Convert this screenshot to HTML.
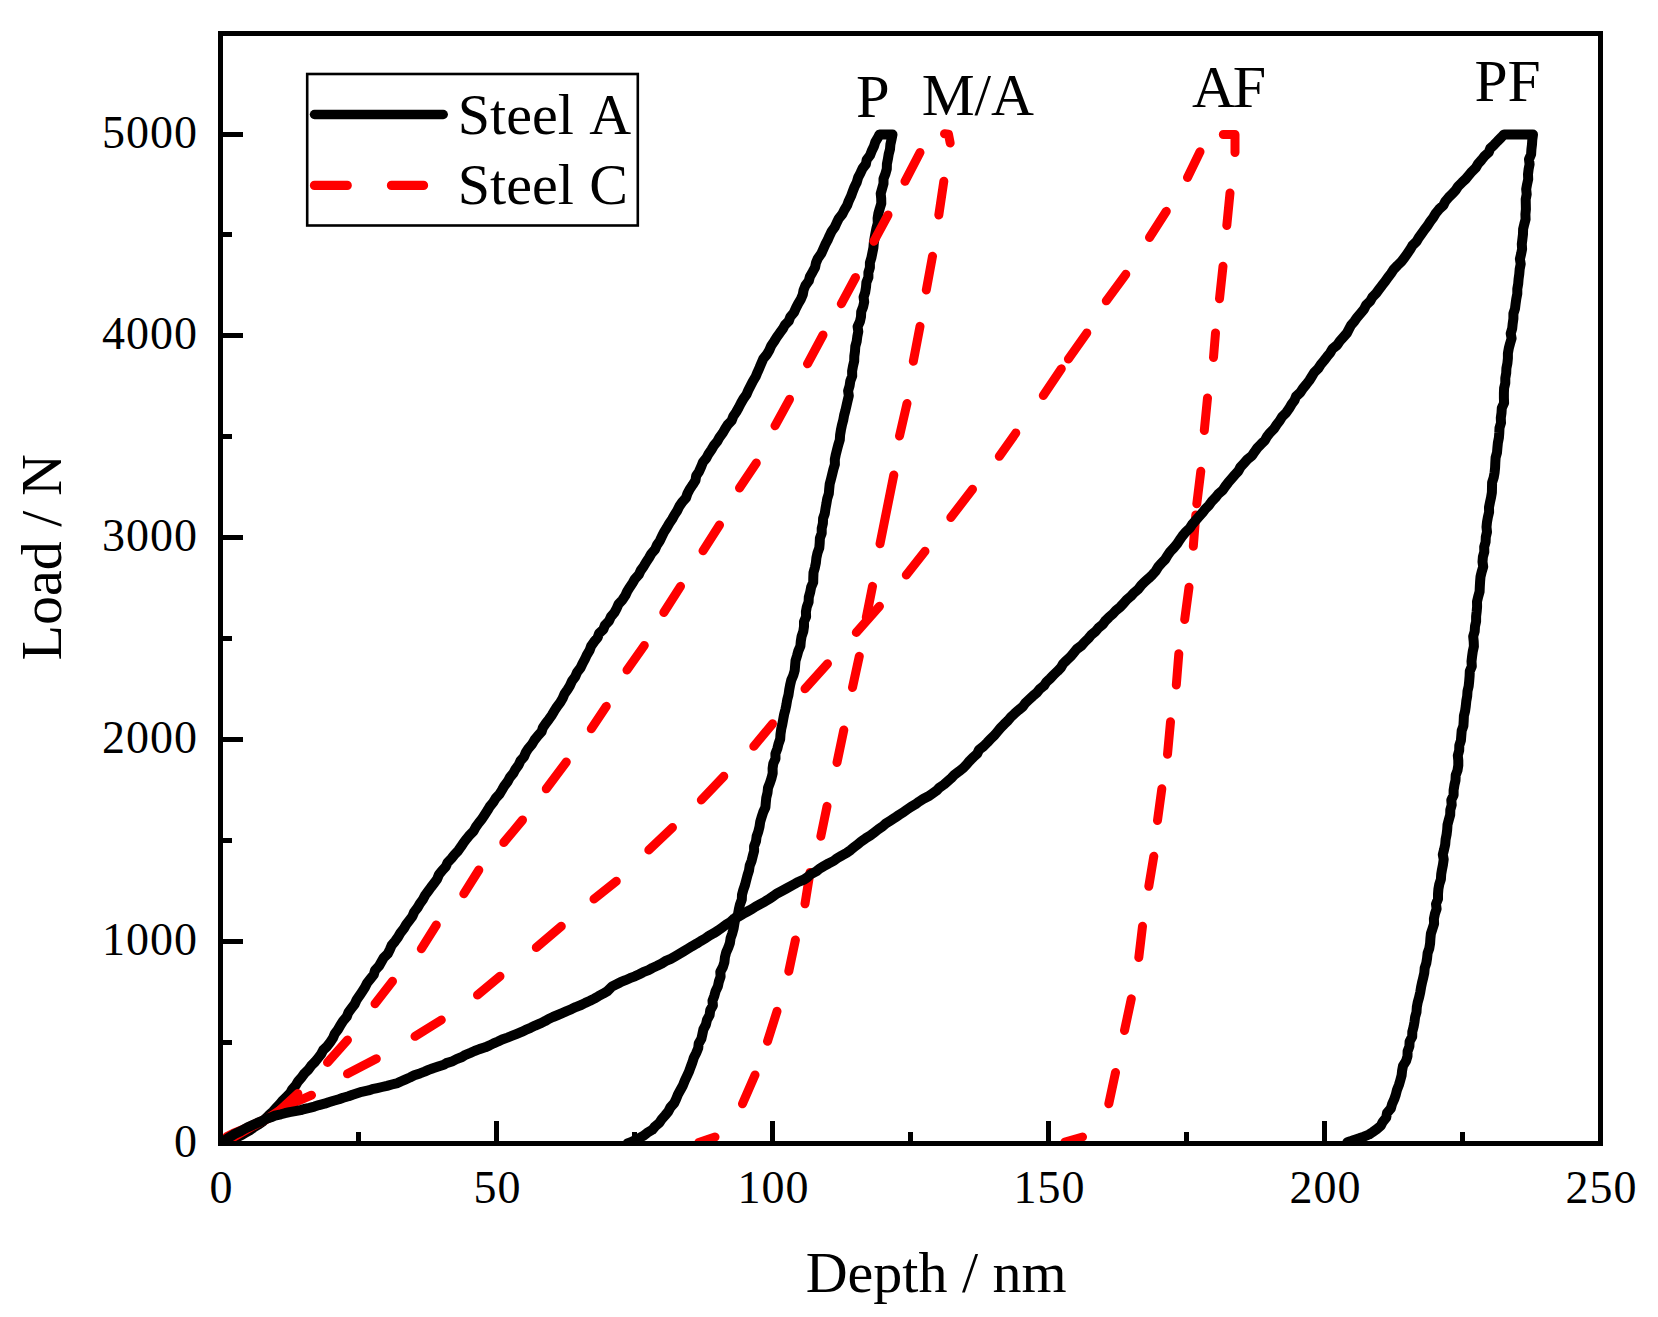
<!DOCTYPE html>
<html lang="en"><head><meta charset="utf-8"><title>Load - Depth curves</title>
<style>
html,body{margin:0;padding:0;background:#fff;}
body{width:1658px;height:1317px;overflow:hidden;}
svg{display:block;}
text{font-family:"Liberation Serif",serif;fill:#000;}
.tk{font-size:46px;letter-spacing:1px;}
.tt{font-size:58px;}
</style></head><body>
<svg width="1658" height="1317" viewBox="0 0 1658 1317">
<rect x="0" y="0" width="1658" height="1317" fill="#fff"/>
<defs><clipPath id="pc"><rect x="220.5" y="33.5" width="1380" height="1110"/></clipPath></defs>
<g clip-path="url(#pc)" fill="none" stroke-linecap="round" stroke-linejoin="round">
<polyline stroke="#000" stroke-width="10.0" points="222.5,1142.5 227.3,1141.0 232.0,1139.3 236.8,1137.5 241.0,1135.4 245.1,1133.0 249.6,1130.4 253.5,1127.6 258.1,1124.8 262.7,1121.7 265.6,1118.5 269.1,1115.0 273.1,1111.4 276.4,1107.7 279.7,1104.1 282.7,1100.5 286.5,1096.8 290.2,1093.1 292.3,1089.2 295.8,1085.2 298.1,1081.3 301.6,1077.4 304.4,1073.5 308.4,1069.6 311.1,1065.8 315.0,1061.9 318.1,1058.0 321.1,1054.1 323.1,1050.2 327.1,1046.3 330.2,1042.2 333.0,1038.0 334.8,1033.8 338.0,1029.5 340.4,1025.2 343.1,1021.0 346.7,1016.8 348.4,1012.5 351.5,1008.3 354.7,1004.1 356.6,999.9 359.5,995.7 362.3,991.4 365.0,987.2 367.1,983.0 370.4,978.8 373.8,974.6 375.0,970.4 378.9,966.2 381.3,962.0 383.7,957.8 387.8,953.7 389.9,949.5 391.7,945.3 395.1,941.2 398.1,937.0 400.5,932.8 403.8,928.7 406.2,924.5 409.3,920.4 412.5,916.2 414.2,912.0 417.4,907.9 419.8,903.7 422.9,899.6 425.0,895.4 428.1,891.2 431.1,887.1 434.4,882.9 437.3,878.8 438.9,874.6 442.1,870.6 445.8,866.6 447.5,862.6 451.3,858.6 454.5,854.6 458.2,850.7 461.0,846.7 463.6,842.7 466.6,838.8 469.8,834.9 473.7,830.9 475.8,827.0 478.8,822.9 482.0,818.9 484.7,814.7 487.4,810.6 489.8,806.5 493.2,802.4 495.8,798.2 499.5,794.1 502.0,790.0 504.4,785.8 507.6,781.7 509.8,777.5 513.3,773.3 515.5,769.2 518.6,765.0 520.5,760.8 524.1,756.7 525.8,752.5 528.4,748.4 532.0,744.2 534.5,740.0 537.8,735.9 541.6,731.7 542.9,727.6 545.8,723.4 549.0,719.2 551.9,715.1 554.3,710.9 557.0,706.7 560.2,702.5 562.7,698.2 564.5,693.9 567.5,689.6 570.1,685.3 572.0,681.0 575.2,676.7 577.1,672.3 580.5,667.9 582.5,663.6 584.9,659.2 586.9,654.8 589.6,650.4 591.1,646.1 594.1,641.8 597.6,637.6 599.1,633.4 603.4,629.3 604.9,625.2 609.0,621.0 610.9,616.8 614.4,612.6 616.7,608.4 618.5,604.1 622.5,599.8 625.3,595.6 627.2,591.4 629.8,587.2 632.6,583.0 635.0,578.8 638.8,574.7 640.7,570.5 643.7,566.3 646.1,562.2 648.9,558.0 651.3,553.7 655.1,549.4 656.9,545.1 659.9,540.7 661.9,536.4 664.0,532.1 666.8,527.7 669.2,523.5 672.1,519.2 674.5,514.9 677.2,510.7 679.3,506.4 682.2,502.1 686.0,497.9 687.4,493.6 689.7,489.2 692.7,484.8 695.5,480.3 696.2,475.8 699.1,471.4 701.1,466.9 702.8,462.4 706.4,458.0 708.6,453.8 711.5,449.6 713.9,445.5 717.3,441.4 719.6,437.2 722.7,433.1 725.0,429.0 727.7,424.8 731.7,420.6 733.3,416.3 736.2,412.0 738.6,407.7 740.9,403.3 743.3,399.0 746.4,394.7 748.3,390.3 750.6,385.8 752.9,381.3 755.6,376.8 757.5,372.2 759.5,367.7 761.3,363.3 763.2,358.9 766.8,354.5 769.3,350.2 771.2,345.8 774.1,341.5 776.8,337.2 779.7,333.1 782.7,329.1 784.9,325.0 788.8,321.0 790.3,316.9 793.9,312.6 795.9,308.1 798.2,303.6 800.9,299.1 802.8,294.5 803.6,290.0 805.4,285.5 808.8,280.9 810.0,276.4 812.6,271.9 815.1,267.3 816.0,262.8 817.9,258.3 821.2,253.7 823.2,249.2 825.2,244.7 827.6,240.2 829.5,235.8 831.6,231.4 834.7,227.1 836.7,222.7 838.9,218.3 842.4,214.0 844.6,209.6 847.2,205.2 848.8,200.8 851.0,196.2 852.7,191.6 854.5,186.9 856.8,182.2 858.1,177.6 860.5,172.9 862.6,168.4 865.9,164.1 866.7,159.7 870.1,155.3 871.8,150.8 874.0,146.3 875.4,141.8 878.2,137.2 879.5,134.5 892.5,134.5 891.5,139.4 890.4,144.3 890.0,149.2 888.7,154.1 887.9,159.1 886.9,164.0 886.8,168.9 885.4,173.9 883.5,178.8 883.5,183.7 882.1,188.7 880.7,193.6 881.2,198.6 881.3,203.5 879.8,208.4 878.4,213.4 877.6,218.3 877.8,223.2 876.5,228.1 875.5,233.1 874.6,238.0 873.8,242.9 873.4,247.8 872.4,252.8 871.4,257.7 869.9,262.6 869.9,267.6 868.4,272.5 868.4,277.4 866.4,282.3 866.0,287.3 865.2,292.2 863.6,297.1 864.2,302.0 863.1,306.9 861.2,311.8 861.0,316.7 859.9,321.7 857.6,326.6 858.3,331.6 857.3,336.5 856.7,341.4 855.3,346.4 855.0,351.3 854.3,356.3 854.2,361.2 853.0,366.2 852.1,371.1 852.2,376.0 850.3,381.0 849.6,385.9 848.1,390.9 848.8,395.8 847.6,400.7 846.5,405.6 845.4,410.5 844.1,415.4 843.2,420.3 841.9,425.2 840.9,430.1 840.1,435.0 839.8,439.9 838.3,444.8 837.0,449.7 835.8,454.6 834.8,459.5 834.9,464.4 833.4,469.3 832.2,474.2 831.0,479.1 829.7,484.0 829.2,488.9 828.8,493.8 827.2,498.7 826.4,503.7 825.5,508.6 824.8,513.5 823.1,518.4 822.9,523.3 821.7,528.3 821.7,533.2 819.9,538.1 819.7,543.0 819.3,547.9 817.5,552.9 816.4,557.8 815.9,562.7 814.9,567.6 813.5,572.5 813.3,577.5 813.2,582.4 811.1,587.3 810.2,592.2 808.8,597.1 808.6,602.0 806.8,606.9 805.9,611.8 806.1,616.7 804.0,621.6 804.0,626.5 803.3,631.4 801.6,636.3 800.8,641.2 800.4,646.1 798.3,651.0 797.0,655.9 795.5,660.8 795.1,665.7 794.7,670.5 793.3,675.4 791.2,680.3 790.1,685.1 789.2,690.0 788.5,694.9 787.2,699.8 786.4,704.7 785.4,709.6 784.1,714.5 783.2,719.4 782.3,724.3 781.2,729.2 780.5,734.1 780.2,739.0 778.5,743.9 777.3,748.8 775.4,753.7 775.5,758.6 773.3,763.5 772.6,768.4 772.7,773.3 771.5,778.1 769.9,783.0 768.0,787.9 767.5,792.8 766.3,797.6 765.8,802.5 765.4,807.4 763.2,812.2 761.6,817.1 760.2,821.9 759.5,826.8 758.3,831.6 756.6,836.5 756.0,841.3 754.1,846.2 754.1,851.0 752.8,855.9 751.6,860.8 749.7,865.6 749.0,870.5 747.5,875.3 746.2,880.2 745.0,885.0 743.3,889.9 742.0,894.7 741.8,899.6 740.0,904.4 738.9,909.2 738.0,914.1 735.3,918.9 734.4,923.7 733.6,928.5 732.3,933.3 730.6,938.1 729.9,943.0 728.2,947.8 726.1,952.6 724.9,957.4 724.4,962.2 722.9,967.0 720.3,971.8 720.6,976.6 718.9,981.5 717.9,986.3 715.6,991.1 714.3,995.9 712.5,1000.7 712.9,1005.5 710.2,1010.3 709.6,1015.1 707.0,1019.9 705.9,1024.6 703.4,1029.4 702.4,1034.1 701.4,1038.8 698.7,1043.5 698.2,1048.2 696.2,1053.0 693.8,1057.7 692.4,1062.4 690.6,1067.1 689.0,1071.7 686.8,1076.3 684.7,1080.9 682.9,1085.5 680.4,1090.0 678.0,1094.4 676.2,1098.8 674.2,1103.1 670.4,1107.4 668.3,1111.5 665.0,1115.5 661.7,1119.3 659.2,1123.0 655.0,1126.5 652.3,1129.8 647.2,1132.8 643.7,1135.6 639.1,1138.1 634.4,1140.4 630.3,1142.4 627.5,1143.5"/>
<g stroke="#ff0000" stroke-width="9.0">
<polyline points="222.5,1142.5 232.0,1138.0 245.4,1130.4 255.0,1125.0 264.4,1120.5 270.0,1117.5 275.8,1114.1 286.0,1104.5 297.9,1093.5"/>
<path d="M327.5 1062.5L347.5 1040.0M375.0 1003.8L392.5 981.3M421.3 948.8L436.3 925.0M463.8 893.8L478.8 870.0M503.8 842.5L522.5 820.0M546.3 788.8L566.3 762.0M591.3 728.8L606.3 706.3M627.0 670.0L644.3 645.5M663.8 612.5L680.5 586.3M703.0 550.8L719.5 525.0M739.5 488.0L756.3 463.0M775.0 425.8L789.5 399.3M807.5 363.8L823.0 335.0M841.3 303.8L855.5 277.5M905.0 181.3L920.0 152.5M873.8 241.3L888.0 215.0"/>
<polyline points="944.5,133.8 948.5,134.3 950.2,143.0"/>
<path d="M943.8 181.3L938.8 215.0M932.5 256.3L926.3 290.0M920.0 326.3L913.3 361.3M907.0 403.5L899.5 436.0M893.8 475.0L880.0 543.8M872.5 586.3L866.3 617.5M859.3 656.3L852.5 687.5M843.8 730.0L837.0 762.5M827.0 806.3L820.8 836.3M810.0 872.5L805.0 903.8M795.4 940.0L788.8 971.3M777.0 1011.3L767.5 1041.3M755.0 1075.0L742.5 1103.8M715.0 1137.0L698.8 1142.5"/>
<polyline points="222.0,1141.0 227.0,1136.5 233.0,1133.5 241.6,1130.0 253.8,1124.3 268.9,1117.5 281.8,1109.0 296.0,1102.0 311.5,1095.2"/>
<path d="M347.5 1073.8L376.3 1058.8M415.0 1036.3L441.3 1020.0M477.5 995.0L500.0 976.3M536.3 947.5L561.3 926.3M594.0 899.0L616.3 881.3M648.8 850.0L672.5 827.5M701.3 800.0L723.8 776.3M753.8 746.3L772.5 723.8M805.0 688.8L827.5 663.8M856.3 632.5L879.5 606.3M906.3 575.0L925.0 551.3M950.8 517.5L972.5 489.3M999.3 456.3L1015.8 433.0M1043.3 395.5L1061.3 368.8M1068.4 359.0L1086.8 333.0M1106.3 300.8L1125.8 274.3M1149.5 237.5L1166.3 211.3M1187.5 177.5L1200.0 151.8"/>
<polyline points="1223.3,134.5 1235.0,134.5 1235.0,152.5"/>
<path d="M1230.0 193.0L1226.8 225.5M1223.0 266.3L1219.5 298.8M1215.5 333.0L1213.5 357.5M1207.5 398.0L1204.3 430.5M1200.8 471.3L1196.8 503.8M1195.8 515.0L1193.3 546.3M1189.0 587.3L1184.7 619.5M1178.8 653.8L1176.3 685.0M1170.5 721.8L1167.5 754.3M1161.8 788.8L1157.5 820.5M1153.8 856.3L1148.8 886.3M1142.5 926.3L1138.8 957.5M1131.3 998.8L1124.5 1030.5M1115.5 1072.5L1108.8 1103.8M1082.5 1137.0L1065.0 1142.0"/>
</g>
<polyline stroke="#000" stroke-width="10.0" points="222.5,1142.5 226.3,1139.3 230.7,1136.6 234.7,1134.1 239.5,1131.8 243.6,1129.5 247.6,1127.3 252.6,1125.1 257.2,1123.0 262.2,1121.0 265.9,1119.0 271.0,1117.3 274.9,1115.7 280.9,1114.3 284.9,1113.2 289.5,1112.1 295.2,1111.1 300.7,1110.1 304.3,1109.0 309.4,1107.9 314.4,1106.6 319.0,1105.1 324.5,1103.7 328.7,1102.2 333.6,1100.7 339.0,1099.2 343.1,1097.7 348.5,1096.2 352.6,1094.7 357.2,1093.2 361.7,1091.8 368.4,1090.4 372.1,1089.2 377.3,1088.1 382.0,1087.0 387.0,1085.8 391.8,1084.5 397.5,1083.1 400.8,1081.5 405.1,1079.6 409.9,1077.5 414.3,1075.3 419.9,1073.4 424.6,1071.6 428.5,1069.9 433.0,1068.2 438.2,1066.5 443.8,1064.8 446.4,1063.1 452.7,1061.2 456.5,1059.2 462.0,1057.0 465.5,1054.8 470.4,1052.8 474.5,1051.0 479.4,1049.1 485.2,1047.3 489.6,1045.4 493.6,1043.4 498.0,1041.5 502.1,1039.5 507.4,1037.6 512.3,1035.7 516.9,1033.8 521.5,1031.9 525.6,1029.9 530.6,1027.8 535.2,1025.6 540.3,1023.4 545.1,1021.1 548.6,1019.0 552.9,1017.0 557.8,1015.0 562.2,1013.1 566.7,1011.1 571.6,1009.1 575.7,1007.1 581.1,1005.0 585.3,1002.9 590.0,1000.8 594.3,998.6 598.4,996.2 603.1,993.7 607.4,991.1 612.0,986.5 616.5,984.3 620.5,982.2 625.4,980.2 629.9,978.2 634.9,976.3 639.3,974.2 643.2,972.2 648.5,970.1 652.3,968.0 657.2,965.8 661.8,963.5 665.3,961.2 670.8,958.8 675.2,956.3 679.4,953.9 683.6,951.4 687.9,948.8 691.9,946.3 696.5,943.7 700.6,941.1 705.2,938.5 708.9,935.9 713.8,933.2 718.0,930.5 721.9,927.7 725.9,924.8 730.5,921.9 733.5,919.1 738.8,916.5 743.0,913.9 747.4,911.5 751.8,909.1 755.6,906.6 760.2,904.1 764.9,901.6 769.1,899.0 773.2,896.3 776.6,893.7 781.8,891.0 786.4,888.5 790.7,886.1 794.8,883.9 798.4,881.8 804.1,879.5 807.8,877.0 810.7,874.2 816.3,871.4 819.5,868.7 823.8,866.1 828.5,863.5 833.7,860.9 837.1,858.3 841.7,855.6 846.6,852.9 850.6,850.1 853.9,847.2 857.9,844.3 861.4,841.3 865.7,838.3 870.3,835.4 874.3,832.4 878.2,829.4 882.6,826.4 885.8,823.5 890.3,820.7 894.8,817.8 898.9,815.0 903.3,812.3 907.1,809.5 911.0,806.8 915.6,804.2 919.1,801.6 923.1,799.0 928.4,796.3 932.3,793.6 936.5,790.7 939.5,787.6 944.0,784.5 947.7,781.2 951.4,778.0 954.5,774.7 959.1,771.3 963.4,767.9 966.7,764.4 969.7,760.8 973.4,757.2 977.3,753.6 978.9,749.9 983.6,746.2 987.3,742.5 990.7,738.8 994.6,735.1 997.7,731.4 1000.7,727.8 1004.2,724.2 1007.9,720.6 1010.8,717.1 1014.6,713.6 1018.6,710.1 1022.8,706.6 1025.3,703.1 1029.0,699.6 1032.7,696.2 1036.9,692.7 1039.7,689.2 1044.0,685.7 1046.3,682.1 1050.2,678.5 1053.6,674.8 1057.5,671.2 1061.0,667.5 1063.1,663.8 1066.8,660.1 1070.8,656.4 1073.7,652.8 1076.7,649.1 1081.5,645.6 1084.7,642.0 1088.3,638.5 1091.3,634.9 1095.6,631.4 1098.5,627.9 1102.8,624.4 1105.3,620.8 1108.9,617.3 1113.0,613.8 1116.1,610.3 1120.4,606.8 1123.7,603.3 1126.7,599.8 1130.8,596.3 1134.1,592.7 1138.2,589.2 1141.0,585.6 1144.5,582.0 1148.7,578.3 1152.6,574.6 1155.8,570.9 1158.1,567.1 1161.4,563.2 1165.2,559.4 1167.5,555.5 1170.2,551.6 1173.9,547.7 1177.2,543.8 1179.7,539.9 1182.4,536.0 1185.6,532.1 1189.8,528.2 1192.2,524.3 1195.7,520.4 1199.1,516.5 1202.5,512.7 1205.3,509.0 1209.1,505.2 1211.7,501.5 1215.3,497.8 1218.3,494.0 1222.7,490.2 1225.3,486.4 1228.2,482.6 1231.5,478.7 1234.8,474.9 1238.4,471.0 1240.4,467.1 1243.9,463.3 1247.4,459.4 1252.1,455.6 1254.6,451.8 1257.3,448.0 1261.0,444.2 1264.9,440.4 1267.0,436.6 1270.1,432.7 1274.0,428.8 1276.6,424.8 1279.7,420.8 1282.1,416.8 1286.2,412.7 1289.0,408.7 1291.4,404.6 1294.4,400.6 1296.0,396.5 1300.3,392.5 1302.9,388.5 1306.2,384.5 1309.3,380.5 1311.8,376.5 1314.2,372.5 1318.2,368.5 1320.7,364.6 1324.0,360.6 1327.0,356.7 1330.2,352.8 1332.4,348.9 1337.2,345.0 1339.9,341.0 1343.4,337.1 1346.9,333.1 1348.9,329.2 1351.0,325.2 1354.5,321.2 1357.3,317.2 1360.7,313.2 1364.0,309.2 1366.0,305.2 1370.2,301.2 1372.3,297.3 1376.2,293.3 1379.1,289.3 1382.0,285.4 1385.2,281.4 1388.0,277.4 1391.0,273.5 1393.6,269.5 1397.4,265.5 1401.4,261.6 1404.5,257.6 1407.3,253.6 1410.0,249.7 1412.3,245.7 1416.4,241.7 1418.7,237.7 1421.6,233.7 1424.5,229.6 1427.6,225.6 1430.2,221.5 1433.3,217.4 1435.7,213.4 1439.0,209.3 1443.4,205.3 1445.3,201.4 1448.5,197.6 1452.1,193.9 1455.6,190.2 1458.0,186.5 1461.8,182.7 1465.7,179.0 1468.7,175.3 1471.9,171.5 1475.9,167.7 1478.0,163.8 1481.5,160.0 1484.5,156.2 1488.7,152.3 1490.2,148.5 1494.1,144.8 1497.6,141.1 1501.3,137.4 1504.0,134.5 1533.0,134.5 1532.3,139.5 1532.0,144.4 1531.4,149.4 1531.1,154.4 1529.0,159.3 1529.6,164.3 1528.6,169.3 1528.0,174.3 1528.2,179.2 1527.1,184.2 1526.2,189.2 1526.7,194.2 1525.7,199.2 1525.8,204.2 1525.9,209.2 1525.4,214.2 1525.6,219.2 1524.3,224.1 1523.1,229.1 1523.0,234.1 1522.4,239.1 1521.8,244.1 1522.1,249.0 1521.1,254.0 1519.9,259.0 1520.7,264.0 1519.7,268.9 1519.3,273.9 1518.6,278.9 1518.2,283.8 1517.3,288.8 1517.3,293.8 1516.3,298.7 1515.6,303.7 1515.0,308.7 1513.4,313.6 1513.4,318.6 1512.7,323.6 1512.2,328.5 1510.7,333.5 1511.6,338.4 1510.1,343.4 1508.8,348.3 1507.9,353.3 1507.9,358.3 1507.4,363.2 1506.4,368.2 1506.2,373.2 1505.3,378.1 1505.3,383.1 1504.1,388.1 1503.9,393.1 1503.9,398.0 1504.1,403.0 1501.8,408.0 1501.5,413.0 1500.8,417.9 1501.0,422.9 1499.5,427.9 1499.3,432.8 1498.9,437.8 1497.9,442.8 1497.4,447.8 1497.0,452.7 1495.6,457.7 1495.3,462.7 1495.1,467.6 1494.6,472.6 1493.7,477.5 1492.1,482.5 1492.0,487.4 1491.9,492.4 1491.1,497.3 1490.0,502.3 1489.0,507.2 1489.1,512.2 1487.9,517.2 1487.0,522.1 1486.5,527.1 1487.0,532.0 1485.8,537.0 1485.6,542.0 1484.2,546.9 1484.3,551.9 1482.9,556.9 1482.5,561.8 1483.2,566.8 1481.7,571.8 1480.5,576.7 1480.1,581.7 1479.8,586.7 1479.6,591.7 1478.2,596.6 1477.0,601.6 1477.1,606.6 1476.7,611.5 1476.1,616.5 1476.1,621.5 1475.0,626.4 1474.7,631.4 1473.2,636.4 1473.7,641.4 1473.9,646.4 1472.8,651.3 1472.1,656.3 1471.5,661.3 1471.8,666.3 1469.8,671.2 1469.6,676.2 1469.2,681.2 1468.7,686.1 1467.5,691.1 1467.2,696.1 1466.3,701.0 1465.8,706.0 1465.1,711.0 1463.9,715.9 1463.7,720.9 1463.4,725.8 1461.7,730.7 1461.3,735.7 1460.9,740.6 1459.3,745.6 1459.2,750.5 1457.8,755.5 1458.3,760.4 1458.3,765.4 1457.5,770.4 1455.7,775.3 1455.5,780.3 1454.4,785.2 1453.6,790.2 1453.6,795.1 1451.3,800.0 1451.7,805.0 1450.3,809.9 1450.2,814.9 1448.8,819.8 1447.5,824.7 1447.2,829.7 1446.6,834.6 1445.6,839.6 1445.2,844.5 1444.1,849.5 1442.8,854.5 1443.7,859.4 1443.0,864.4 1442.0,869.4 1441.2,874.3 1440.9,879.2 1439.3,884.2 1438.4,889.1 1438.0,894.1 1438.0,899.0 1436.0,904.0 1436.6,908.9 1434.9,913.9 1433.9,918.8 1434.1,923.7 1432.5,928.7 1430.9,933.6 1430.4,938.5 1430.1,943.4 1429.3,948.3 1427.6,953.2 1427.1,958.1 1426.3,963.1 1424.7,968.0 1424.3,972.9 1423.2,977.8 1422.0,982.7 1421.0,987.6 1420.2,992.5 1419.1,997.4 1417.7,1002.3 1416.8,1007.2 1416.5,1012.1 1415.1,1017.0 1414.5,1021.9 1413.6,1026.8 1412.3,1031.7 1412.2,1036.6 1409.6,1041.5 1409.4,1046.4 1407.6,1051.3 1407.5,1056.1 1406.1,1060.9 1403.0,1065.8 1402.1,1070.6 1401.6,1075.4 1400.3,1080.2 1398.9,1085.0 1397.0,1089.8 1395.8,1094.6 1394.2,1099.3 1392.1,1104.0 1390.8,1108.6 1387.0,1113.1 1386.2,1117.6 1382.8,1121.8 1380.8,1125.7 1376.8,1129.1 1372.6,1132.1 1369.0,1134.5 1363.9,1136.6 1359.2,1138.3 1354.1,1139.9 1350.2,1141.4 1347.3,1142.3"/>
</g>
<g stroke="#000" stroke-width="5" fill="none" shape-rendering="crispEdges">
<rect x="220.5" y="33.5" width="1380" height="1110"/>
<path d="M358.5 1143.5V1132.0M496.5 1143.5V1121.0M634.5 1143.5V1132.0M772.5 1143.5V1121.0M910.5 1143.5V1132.0M1048.5 1143.5V1121.0M1186.5 1143.5V1132.0M1324.5 1143.5V1121.0M1462.5 1143.5V1132.0M220.5 1042.5H232.0M220.5 941.5H243.0M220.5 840.5H232.0M220.5 739.5H243.0M220.5 638.5H232.0M220.5 537.5H243.0M220.5 436.5H232.0M220.5 335.5H243.0M220.5 234.5H232.0M220.5 134.5H243.0"/>
</g>
<g class="tk" text-anchor="middle">
<text x="221.5" y="1202.6">0</text>
<text x="497.5" y="1202.6">50</text>
<text x="773.5" y="1202.6">100</text>
<text x="1049.5" y="1202.6">150</text>
<text x="1325.5" y="1202.6">200</text>
<text x="1601.5" y="1202.6">250</text>
</g>
<g class="tk" text-anchor="end">
<text x="198" y="1156.8">0</text>
<text x="198" y="954.8">1000</text>
<text x="198" y="752.8">2000</text>
<text x="198" y="550.8">3000</text>
<text x="198" y="348.8">4000</text>
<text x="198" y="147.8">5000</text>
</g>
<text class="tt" text-anchor="middle" x="936.2" y="1292.3">Depth / nm</text>
<text class="tt" text-anchor="middle" transform="translate(61.2 557.3) rotate(-90)">Load / N</text>
<text style="font-size:60.5px" x="856" y="117">P</text>
<text style="font-size:59.5px" x="921.7" y="114.5">M/A</text>
<text style="font-size:60px;letter-spacing:-2.5px" x="1192" y="106.8">AF</text>
<text style="font-size:59.5px" x="1474.5" y="101.2">PF</text>
<rect x="307.2" y="74" width="330.6" height="151.5" fill="#fff" stroke="#000" stroke-width="2.6"/>
<line x1="314.5" y1="114.5" x2="443.2" y2="114.5" stroke="#000" stroke-width="9.5" stroke-linecap="round"/>
<path d="M314.5 185.4H347.2M391.5 185.4H423.5" stroke="#ff0000" stroke-width="9.3" stroke-linecap="round" fill="none"/>
<text class="tt" x="457.8" y="133.8">Steel<tspan dx="4.2"> A</tspan></text>
<text class="tt" x="457.8" y="204.4">Steel<tspan dx="1"> C</tspan></text>
</svg>
</body></html>
